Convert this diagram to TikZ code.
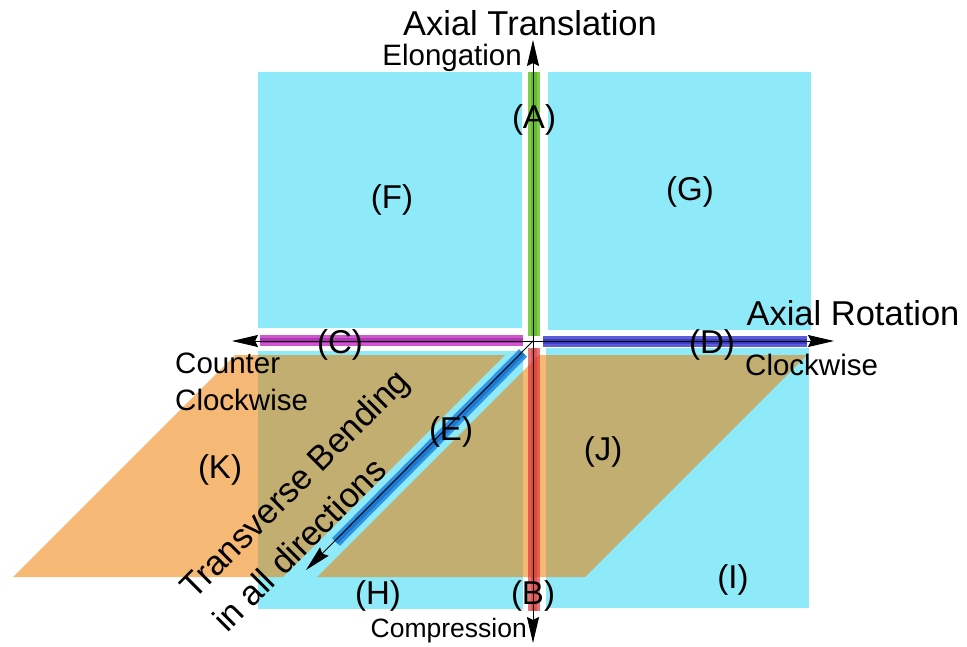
\documentclass[tikz,border=0pt]{standalone}
\usepackage{fontspec}
\setmainfont{Liberation Sans}
\usetikzlibrary{arrows.meta}

\definecolor{skycyan}{RGB}{142,234,248}
\definecolor{burnt}{RGB}{237,128,9}
\definecolor{grassA}{RGB}{128,205,76}
\definecolor{grassB}{RGB}{100,184,52}
\definecolor{plumA}{RGB}{205,88,205}
\definecolor{plumB}{RGB}{178,52,182}
\definecolor{navyA}{RGB}{92,92,215}
\definecolor{navyB}{RGB}{60,60,195}
\definecolor{rustA}{RGB}{215,45,45}
\definecolor{oceanA}{RGB}{48,148,226}
\definecolor{oceanB}{RGB}{30,118,205}

\tikzset{
  quad/.style={fill=skycyan},
  plane/.style={fill=burnt, opacity=0.56},
  axisline/.style={line width=0.9pt, black,
    -{Stealth[length=26pt, width=12pt, inset=3pt]}},
  lbl/.style={inner sep=0pt, font=\fontsize{33}{38}\selectfont},
  bigtxt/.style={inner sep=0pt, font=\fontsize{34.5}{42}\selectfont},
  midtxt/.style={inner sep=0pt, font=\fontsize{29.5}{37}\selectfont},
  smalltxt/.style={inner sep=0pt, font=\fontsize{26.5}{32}\selectfont}
}

\begin{document}
\begin{tikzpicture}[x=1pt,y=-1pt]
  \useasboundingbox (0,0) rectangle (967,646);
  % cyan quadrants
  \fill[quad] (258,72) rectangle (522,328);
  \fill[quad] (548,72) rectangle (811,330);
  \fill[quad] (258,351) rectangle (523,609);
  \fill[quad] (546,348) rectangle (809,608);
  % orange planes
  \fill[plane] (13,577) -- (283,577) -- (505,355) -- (235,355) -- cycle;
  \fill[plane] (317,577) -- (585,577) -- (807,355) -- (539,355) -- cycle;
  % coloured bands
  \draw[grassA, line width=12pt] (534,72) -- (534,336);
  \draw[grassB, line width=6pt] (534,72) -- (534,336);
  \draw[plumA, line width=11pt] (260,340.5) -- (523,340.5);
  \draw[plumB, line width=5pt] (260,340.5) -- (523,340.5);
  \draw[navyA, line width=11pt] (543,341.5) -- (807,341.5);
  \draw[navyB, line width=5pt] (543,341.5) -- (807,341.5);
  \draw[rustA, opacity=0.65, line width=12pt] (534,348) -- (534,611);
  \draw[rustA, opacity=0.45, line width=6pt] (534,348) -- (534,611);
  \draw[oceanA, line width=11pt] (523,353) -- (336,542);
  \draw[oceanB, line width=5pt] (523,353) -- (336,542);
  % axes
  \coordinate (O) at (533,341);
  \coordinate (up) at (533,40);
  \coordinate (down) at (533,643);
  \coordinate (left) at (232,341);
  \coordinate (right) at (834,341);
  \coordinate (diag) at (306,570);
  \draw[axisline] (O) -- (up);
  \draw[axisline] (O) -- (down);
  \draw[axisline] (O) -- (left);
  \draw[axisline] (O) -- (right);
  \draw[axisline] (O) -- (diag);
  % texts
  \node[bigtxt, anchor=base] (trans) at (530,35) {Axial Translation};
  \node[midtxt, anchor=base east] (elong) at (522,65) {Elongation};
  \node[bigtxt, anchor=base] (rot) at (853,325) {Axial Rotation};
  \node[midtxt, anchor=base west] (ccw1) at (175,373) {Counter};
  \node[midtxt, anchor=base west] (ccw2) at (175,410) {Clockwise};
  \node[midtxt, anchor=base west] (cw) at (745,375) {Clockwise};
  \node[smalltxt, anchor=base east] (comp) at (527,637) {Compression};
  \node[bigtxt, anchor=base west, rotate=45] (bend1) at (194,601) {Transverse Bending};
  \node[bigtxt, anchor=base west, rotate=45] (bend2) at (227,634) {in all directions};
  \node[lbl] (A) at (534,120) {(A)};
  \node[lbl] (B) at (533,596) {(B)};
  \node[lbl] (C) at (340,345) {(C)};
  \node[lbl] (D) at (712,345) {(D)};
  \node[lbl] (E) at (451,432) {(E)};
  \node[lbl] (F) at (392,200) {(F)};
  \node[lbl] (G) at (690,192) {(G)};
  \node[lbl] (H) at (378,596) {(H)};
  \node[lbl] (I) at (733,580) {(I)};
  \node[lbl] (J) at (603,452) {(J)};
  \node[lbl] (K) at (220,470) {(K)};
\end{tikzpicture}
\end{document}
